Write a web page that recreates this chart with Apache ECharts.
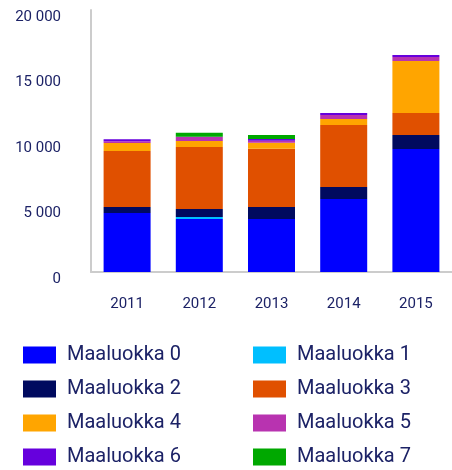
<!DOCTYPE html>
<html>
<head>
    <meta charset="utf8">
    <title>Maaluokat</title>
    <script src="https://cdn.jsdelivr.net/npm/echarts@6/dist/echarts.min.js"></script>
    <style>
        body { margin: 0; background: #fff; }
    </style>
</head>
<body>
    <div id="main" style="width: 452px;height:470px;"></div>
    <script type="text/javascript">
    // vuodet ja maaluokkien arvot (luettu kuvasta)
    var years = ['2011', '2012', '2013', '2014', '2015'];
    var names = ['Maaluokka 0', 'Maaluokka 1', 'Maaluokka 2', 'Maaluokka 3',
                 'Maaluokka 4', 'Maaluokka 5', 'Maaluokka 6', 'Maaluokka 7'];
    var ml0 = [4500, 4050, 4050, 5570, 9390];
    var ml1 = [0, 150, 0, 0, 0];
    var ml2 = [460, 610, 920, 920, 1070];
    var ml3 = [4270, 4730, 4430, 4730, 1680];
    var ml4 = [610, 460, 460, 460, 3970];
    var ml5 = [150, 300, 150, 300, 300];
    var ml6 = [150, 30, 150, 150, 150];
    var ml7 = [0, 300, 300, 0, 0];
    var yTicks = [0, 5000, 10000, 15000, 20000];

    var colors = ['#0000ff', '#00bfff', '#000a5f', '#e05000',
                  '#ffa500', '#b833b0', '#6600dd', '#00a800'];
    var values = [ml0, ml1, ml2, ml3, ml4, ml5, ml6, ml7];
    var txt = '#1c2266';

    var series = [];
    for (var i = 0; i < names.length; i++) {
        series.push({
            name: names[i],
            type: 'bar',
            stack: 'total',
            barWidth: 47,
            itemStyle: { color: colors[i] },
            data: values[i]
        });
    }

    function legendCol(left, items) {
        return {
            orient: 'vertical',
            left: left,
            top: 345,
            height: 125,
            padding: 0,
            itemWidth: 33,
            itemHeight: 17,
            itemGap: 14,
            icon: 'rect',
            selectedMode: false,
            data: items,
            textStyle: {
                color: txt,
                fontSize: 20,
                lineHeight: 20,
                fontFamily: 'Roboto',
                padding: [0, 0, 0, 6]
            }
        };
    }

    var myChart = echarts.init(document.getElementById('main'));
    var option = {
        animation: false,
        textStyle: { fontFamily: 'Roboto' },
        legend: [
            legendCol(23, [names[0], names[2], names[4], names[6]]),
            legendCol(253, [names[1], names[3], names[5], names[7]])
        ],
        grid: { left: 91, top: 10, width: 370, height: 262 },
        xAxis: {
            type: 'category',
            data: years,
            axisLine: { lineStyle: { color: '#cccccc', width: 2 } },
            axisTick: { show: false },
            axisLabel: { color: txt, fontSize: 15, margin: 25 }
        },
        yAxis: {
            type: 'value',
            min: yTicks[0],
            max: yTicks[yTicks.length - 1],
            interval: 5000,
            splitLine: { show: false },
            axisTick: { show: false },
            axisLine: { show: true, lineStyle: { color: '#cccccc', width: 2 } },
            axisLabel: {
                color: txt,
                fontSize: 15,
                margin: 30,
                verticalAlign: 'top',
                lineHeight: 14,
                formatter: function (v) {
                    return String(v).replace(/\B(?=(\d{3})+(?!\d))/g, ' ');
                }
            }
        },
        series: series
    };
    myChart.setOption(option);
    </script>
</body>
</html>
